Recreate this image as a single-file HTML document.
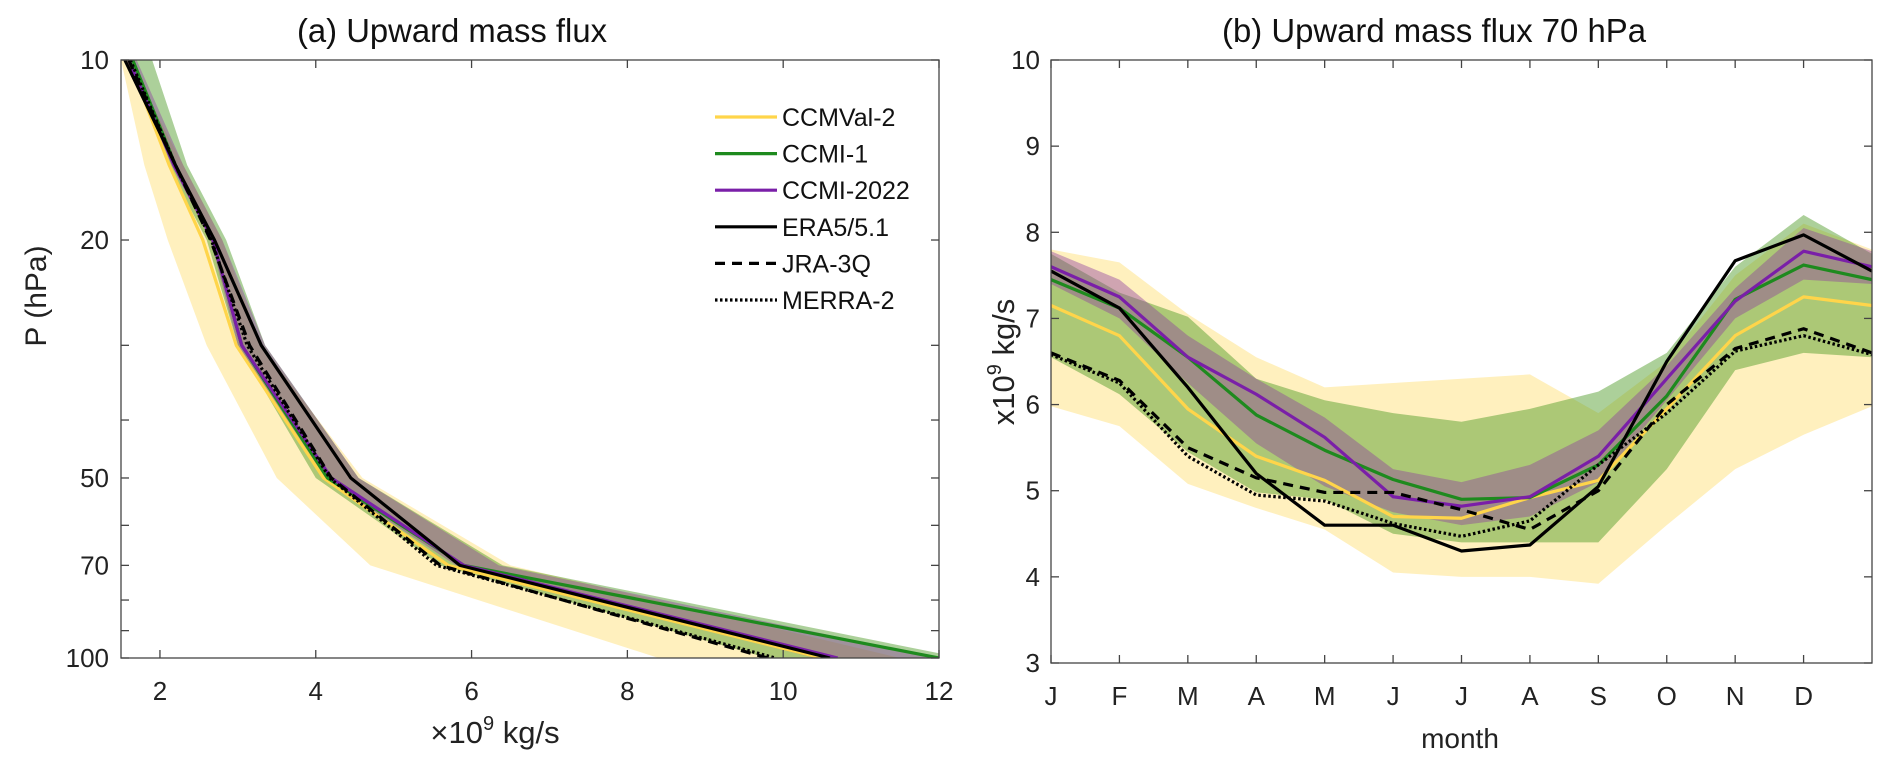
<!DOCTYPE html>
<html><head><meta charset="utf-8">
<style>
html,body{margin:0;padding:0;background:#fff;}
svg{display:block;font-family:"Liberation Sans",sans-serif;}
</style></head>
<body>
<svg id="fig" width="1892" height="769" viewBox="0 0 1892 769" xmlns="http://www.w3.org/2000/svg">
<defs>
<clipPath id="clipA"><rect x="121" y="60" width="818" height="598"/></clipPath>
<clipPath id="clipB"><rect x="1051" y="60" width="821" height="603"/></clipPath>
</defs>
<g id="panelA"></g>
<g id="panelB"></g>
</svg>
<script>
// ---------- Panel (a) data ----------
const levels = [10, 15, 20, 30, 50, 70, 100];
const aEra5 = [1.55, 2.2, 2.7, 3.3, 4.45, 5.85, 10.6];
const aJra = [1.6, 2.2, 2.65, 3.15, 4.2, 5.6, 9.8];
const aMerra = [1.62, 2.2, 2.66, 3.12, 4.18, 5.55, 9.9];
const aCcmval = [1.6, 2.12, 2.55, 2.98, 4.1, 5.7, 10.5];
const aCcmi1 = [1.65, 2.2, 2.68, 3.05, 4.15, 5.9, 12.0];
const aCcmi22 = [1.6, 2.18, 2.68, 3.05, 4.2, 5.9, 10.7];
const aCcmvalLo = [1.5, 1.8, 2.1, 2.6, 3.5, 4.7, 8.4];
const aCcmvalHi = [1.6, 2.3, 2.8, 3.3, 4.6, 6.5, 11.5];
const aCcmi1Lo = [1.6, 2.1, 2.6, 3.0, 4.0, 5.6, 9.8];
const aCcmi1Hi = [1.9, 2.35, 2.85, 3.35, 4.55, 6.4, 12.3];
const aCcmi22Lo = [1.6, 2.15, 2.65, 3.0, 4.1, 5.8, 10.4];
const aCcmi22Hi = [1.7, 2.3, 2.8, 3.35, 4.55, 6.35, 12.0];
const aXTicks = [2, 4, 6, 8, 10, 12];
const aYTickVals = [10, 20, 30, 40, 50, 60, 70, 80, 90, 100];
const aYLabels = [10, 20, 50, 70, 100];

// ---------- Panel (b) data ----------
const months = ['J','F','M','A','M','J','J','A','S','O','N','D'];
const bEra5 = [7.55, 7.12, 6.2, 5.2, 4.6, 4.6, 4.3, 4.37, 5.05, 6.5, 7.67, 7.97];
const bJra = [6.6, 6.28, 5.5, 5.15, 4.98, 4.98, 4.78, 4.55, 5.0, 6.0, 6.65, 6.88];
const bMerra = [6.58, 6.25, 5.4, 4.95, 4.88, 4.62, 4.47, 4.65, 5.3, 5.9, 6.62, 6.8];
const bCcmval = [7.15, 6.8, 5.95, 5.4, 5.12, 4.7, 4.68, 4.92, 5.12, 5.95, 6.8, 7.25];
const bCcmi1 = [7.45, 7.12, 6.55, 5.88, 5.47, 5.13, 4.9, 4.92, 5.3, 6.1, 7.22, 7.62];
const bCcmi22 = [7.6, 7.25, 6.55, 6.12, 5.62, 4.93, 4.82, 4.93, 5.4, 6.3, 7.2, 7.78];
const bCcmvalHi = [7.8, 7.65, 7.05, 6.55, 6.2, 6.25, 6.3, 6.35, 5.9, 6.5, 7.5, 8.1];
const bCcmvalLo = [5.98, 5.75, 5.08, 4.8, 4.55, 4.05, 4.0, 4.0, 3.92, 4.6, 5.25, 5.65];
const bCcmi1Hi = [7.75, 7.3, 7.02, 6.3, 6.05, 5.9, 5.8, 5.95, 6.15, 6.6, 7.6, 8.2];
const bCcmi1Lo = [6.55, 6.12, 5.45, 4.98, 4.9, 4.5, 4.4, 4.4, 4.4, 5.25, 6.4, 6.6];
const bCcmi22Hi = [7.78, 7.45, 6.8, 6.3, 5.85, 5.25, 5.1, 5.3, 5.7, 6.45, 7.35, 8.05];
const bCcmi22Lo = [7.4, 7.0, 6.25, 5.55, 5.05, 4.75, 4.6, 4.7, 5.1, 6.05, 7.0, 7.45];
const bYTicks = [3, 4, 5, 6, 7, 8, 9, 10];

const NS = 'http://www.w3.org/2000/svg';
const C = {yel:'#ffd54a', grn:'#1e8a1e', pur:'#7a1fa8', blk:'#000'};
const F = {yel:'rgba(255,221,110,0.45)', grn:'rgba(70,150,30,0.45)', pur:'rgba(140,60,160,0.42)'};
function mk(parent, tag, attrs, text){
  const e = document.createElementNS(NS, tag);
  for (const k in attrs) e.setAttribute(k, attrs[k]);
  if (text !== undefined) e.textContent = text;
  parent.appendChild(e); return e;
}

// ---------- Panel (a) ----------
const A = {l:121, r:939, t:60, b:658, xmin:1.5, xmax:12};
const ax = v => A.l + (v - A.xmin) / (A.xmax - A.xmin) * (A.r - A.l);
const ay = p => A.t + Math.log10(p / 10) * (A.b - A.t);
const gA = document.getElementById('panelA');
const plotA = mk(gA, 'g', {'clip-path':'url(#clipA)'});


function bandA(lo, hi, fill, name){
  let pts = lo.map((v,i)=>ax(v)+','+ay(levels[i]));
  pts = pts.concat(hi.map((v,i)=>ax(v)+','+ay(levels[i])).reverse());
  const e = mk(plotA, 'polygon', {points:pts.join(' '), fill:fill});
  
  
}
function lineA(vals, color, dash, name){
  const e = mk(plotA, 'polyline', {points:vals.map((v,i)=>ax(v)+','+ay(levels[i])).join(' '), fill:'none', stroke:color, 'stroke-width':3.2, 'stroke-dasharray':dash, 'stroke-linejoin':'round'});
  
  
}
bandA(aCcmvalLo, aCcmvalHi, F.yel, 'ccmval2-range-a');
bandA(aCcmi1Lo, aCcmi1Hi, F.grn, 'ccmi1-range-a');
bandA(aCcmi22Lo, aCcmi22Hi, F.pur, 'ccmi2022-range-a');
lineA(aCcmval, C.yel, 'none', 'ccmval2-line-a');
lineA(aCcmi1, C.grn, 'none', 'ccmi1-line-a');
lineA(aCcmi22, C.pur, 'none', 'ccmi2022-line-a');
lineA(aEra5, C.blk, 'none', 'era5-line-a');
lineA(aJra, C.blk, '10,7', 'jra3q-line-a');
lineA(aMerra, C.blk, '2.5,2.5', 'merra2-line-a');

const axA = mk(gA, 'g', {stroke:'#444', 'stroke-width':1.3, fill:'none'});


mk(axA, 'rect', {x:A.l, y:A.t, width:A.r-A.l, height:A.b-A.t});
aXTicks.forEach(v=>{
  mk(axA, 'line', {x1:ax(v), x2:ax(v), y1:A.b, y2:A.b-8});
  mk(axA, 'line', {x1:ax(v), x2:ax(v), y1:A.t, y2:A.t+8});
  const t = mk(gA, 'text', {x:ax(v), y:700, 'font-size':26, 'text-anchor':'middle', fill:'#222'}, v);
  
  
});
aYTickVals.forEach(p=>{
  mk(axA, 'line', {x1:A.l, x2:A.l+8, y1:ay(p), y2:ay(p)});
  mk(axA, 'line', {x1:A.r, x2:A.r-8, y1:ay(p), y2:ay(p)});
});
aYLabels.forEach(p=>{
  const t = mk(gA, 'text', {x:109, y:ay(p)+9, 'font-size':26, 'text-anchor':'end', fill:'#222'}, p);
  
  
});
let tt = mk(gA, 'text', {x:297, y:42, 'font-size':33, textLength:310, lengthAdjust:'spacingAndGlyphs', fill:'#111'}, '(a) Upward mass flux');
 
tt = mk(gA, 'text', {x:495, y:743, 'font-size':31, 'text-anchor':'middle', fill:'#222'});
 
tt.innerHTML = '×10<tspan font-size="20" dy="-13">9</tspan><tspan dy="13"> kg/s</tspan>';
tt = mk(gA, 'text', {x:0, y:0, 'font-size':30, 'text-anchor':'middle', fill:'#222', transform:'translate(46,296) rotate(-90)'}, 'P (hPa)');
 

// legend
const legNames = ['CCMVal-2','CCMI-1','CCMI-2022','ERA5/5.1','JRA-3Q','MERRA-2'];
const legColors = [C.yel, C.grn, C.pur, C.blk, C.blk, C.blk];
const legDash = ['none','none','none','none','10,7','2.5,2.5'];
const leg = mk(gA, 'g', {});


legNames.forEach((n,i)=>{
  const y = 117 + i*36.6;
  const g = mk(leg, 'g', {});
  
  
  mk(g, 'line', {x1:715, x2:777, y1:y, y2:y, stroke:legColors[i], 'stroke-width':3.2, 'stroke-dasharray':legDash[i]});
  mk(g, 'text', {x:782, y:y+9, 'font-size':25, fill:'#111'}, n);
});

// ---------- Panel (b) ----------
const B = {l:1051, r:1872, t:60, b:663, xmin:0, xmax:12, ymin:3, ymax:10};
const bx = i => B.l + (i - B.xmin) / (B.xmax - B.xmin) * (B.r - B.l);
const by = v => B.b - (v - B.ymin) / (B.ymax - B.ymin) * (B.b - B.t);
const gB = document.getElementById('panelB');
const plotB = mk(gB, 'g', {'clip-path':'url(#clipB)'});


const cyc = a => a.concat([a[0]]);
function bandB(lo, hi, fill, name){
  const L = cyc(lo), H = cyc(hi);
  let pts = L.map((v,i)=>bx(i)+','+by(v));
  pts = pts.concat(H.map((v,i)=>bx(i)+','+by(v)).reverse());
  const e = mk(plotB, 'polygon', {points:pts.join(' '), fill:fill});
  
  
}
function lineB(vals, color, dash, name){
  const e = mk(plotB, 'polyline', {points:cyc(vals).map((v,i)=>bx(i)+','+by(v)).join(' '), fill:'none', stroke:color, 'stroke-width':3.2, 'stroke-dasharray':dash, 'stroke-linejoin':'round'});
  
  
}
bandB(bCcmvalLo, bCcmvalHi, F.yel, 'ccmval2-range-b');
bandB(bCcmi1Lo, bCcmi1Hi, F.grn, 'ccmi1-range-b');
bandB(bCcmi22Lo, bCcmi22Hi, F.pur, 'ccmi2022-range-b');
lineB(bCcmval, C.yel, 'none', 'ccmval2-line-b');
lineB(bCcmi1, C.grn, 'none', 'ccmi1-line-b');
lineB(bCcmi22, C.pur, 'none', 'ccmi2022-line-b');
lineB(bEra5, C.blk, 'none', 'era5-line-b');
lineB(bJra, C.blk, '10,7', 'jra3q-line-b');
lineB(bMerra, C.blk, '2.5,2.5', 'merra2-line-b');

const axB = mk(gB, 'g', {stroke:'#444', 'stroke-width':1.3, fill:'none'});


mk(axB, 'rect', {x:B.l, y:B.t, width:B.r-B.l, height:B.b-B.t});
months.forEach((m,i)=>{
  mk(axB, 'line', {x1:bx(i), x2:bx(i), y1:B.b, y2:B.b-8});
  mk(axB, 'line', {x1:bx(i), x2:bx(i), y1:B.t, y2:B.t+8});
  const t = mk(gB, 'text', {x:bx(i), y:705, 'font-size':26, 'text-anchor':'middle', fill:'#222'}, m);
  
  
});
bYTicks.forEach(v=>{
  mk(axB, 'line', {x1:B.l, x2:B.l+8, y1:by(v), y2:by(v)});
  mk(axB, 'line', {x1:B.r, x2:B.r-8, y1:by(v), y2:by(v)});
  const t = mk(gB, 'text', {x:1040, y:by(v)+9, 'font-size':26, 'text-anchor':'end', fill:'#222'}, v);
  
  
});
tt = mk(gB, 'text', {x:1222, y:42, 'font-size':33, textLength:424, lengthAdjust:'spacingAndGlyphs', fill:'#111'}, '(b) Upward mass flux 70 hPa');
 
tt = mk(gB, 'text', {x:1460, y:748, 'font-size':28, 'text-anchor':'middle', fill:'#222'}, 'month');
 
tt = mk(gB, 'text', {x:0, y:0, 'font-size':31, 'text-anchor':'middle', fill:'#222', transform:'translate(1014,362) rotate(-90)'});
 
tt.innerHTML = 'x10<tspan font-size="20" dy="-13">9</tspan><tspan dy="13"> kg/s</tspan>';
</script>
</body></html>
